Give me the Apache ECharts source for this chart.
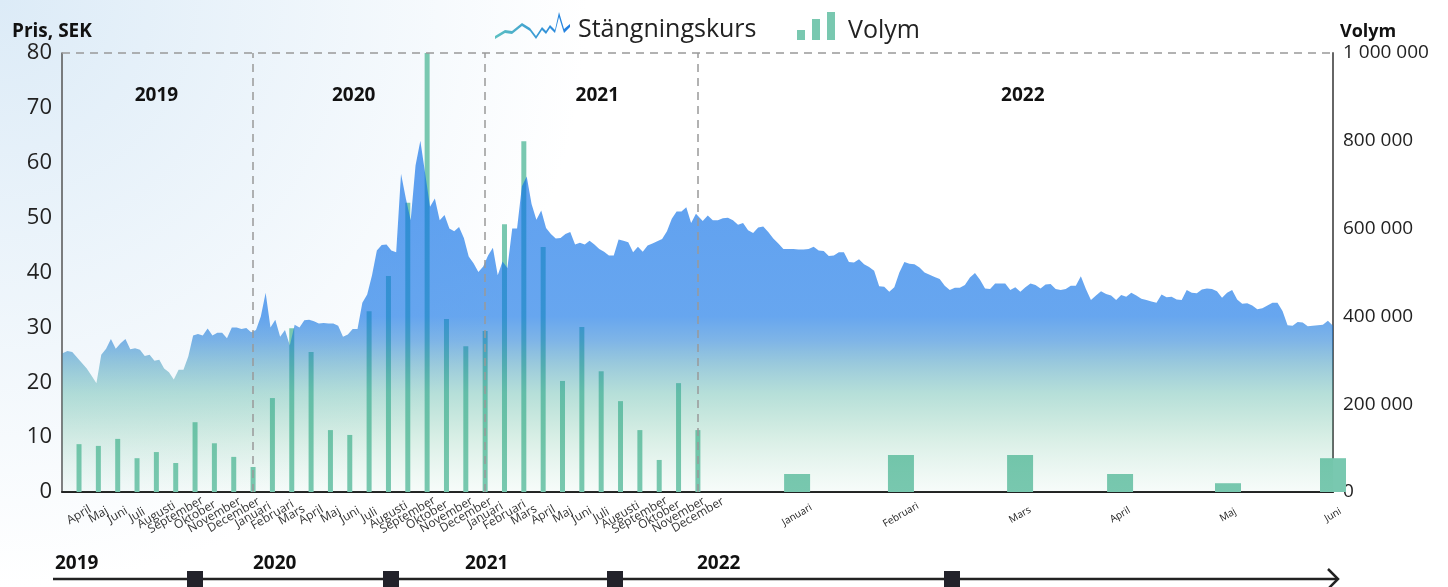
<!DOCTYPE html>
<html lang="sv">
<head>
<meta charset="UTF-8">
<title>Stängningskurs och volym</title>
<script src="https://cdn.jsdelivr.net/npm/echarts@6/dist/echarts.min.js"></script>
<style>
  html, body { margin: 0; padding: 0; background: #fff; }
  #main { width: 1448px; height: 587px; }
</style>
</head>
<body>
<div id="main"></div>
<script>
// månader, april 2019 - juni 2022
var monthNames = [
  'April', 'Maj', 'Juni', 'Juli', 'Augusti', 'September', 'Oktober', 'November', 'December',
  'Januari', 'Februari', 'Mars', 'April', 'Maj', 'Juni', 'Juli', 'Augusti', 'September', 'Oktober', 'November', 'December',
  'Januari', 'Februari', 'Mars', 'April', 'Maj', 'Juni', 'Juli', 'Augusti', 'September', 'Oktober', 'November', 'December',
  'Januari', 'Februari', 'Mars', 'April', 'Maj', 'Juni'
];
// läge på x-axeln (2019-2021 en enhet per månad, 2022 utdraget)
var monthPos = [
  0, 1, 2, 3, 4, 5, 6, 7, 8,
  9, 10, 11, 12, 13, 14, 15, 16, 17, 18, 19, 20,
  21, 22, 23, 24, 25, 26, 27, 28, 29, 30, 31, 32,
  37.13, 42.5, 48.66, 53.83, 59.41, 64.84
];
var volym = [
  109000, 105000, 121000, 77000, 91000, 66000, 159000, 111000, 80000,
  57000, 214000, 373000, 319000, 141000, 130000, 412000, 492000, 659000, 1000000, 394000, 332000,
  367000, 610000, 799000, 558000, 253000, 376000, 275000, 207000, 141000, 73000, 248000, 141000,
  41000, 84000, 84000, 41000, 20000, 77000
];
// stängningskurs 2019-2021, ett värde per kvarts månad
var priceA = [
  25.3, 25.7, 25.5, 24.5, 23.5, 22.5, 21.2, 19.8, 25.0, 26.1,
  27.9, 26.1, 27.1, 27.9, 26.0, 26.2, 25.9, 24.8, 25.0, 23.9,
  24.1, 22.5, 21.8, 20.5, 22.3, 22.3, 24.7, 28.5, 28.8, 28.5,
  29.8, 28.5, 29.0, 29.0, 28.0, 30.0, 30.0, 29.7, 29.9, 29.1,
  29.5, 32.0, 36.3, 30.0, 31.4, 28.3, 29.5, 26.7, 30.5, 30.0,
  31.3, 31.4, 31.1, 30.7, 30.8, 30.7, 30.7, 30.3, 28.3, 28.7,
  29.7, 29.7, 34.5, 36.0, 39.5, 44.0, 45.0, 45.1, 44.0, 43.7,
  58.0, 53.5, 49.5, 59.5, 64.0, 58.0, 52.0, 53.5, 49.5, 50.5,
  48.0, 47.5, 48.3, 46.3, 42.9, 41.7, 40.1, 41.1, 43.1, 44.5,
  39.5, 42.0, 40.8, 48.0, 48.0, 55.7, 57.5, 52.5, 49.6, 51.3,
  48.1, 47.0, 46.2, 46.3, 47.0, 47.4, 45.1, 45.4, 45.1, 45.8,
  45.1, 44.3, 43.8, 43.1, 43.1, 46.0, 45.8, 45.5, 43.7, 44.7,
  43.8, 44.9, 45.3, 45.7, 46.1, 47.5, 49.8, 51.1, 51.1, 51.9,
  49.0, 50.7
];
// stängningskurs 2022, per handelsdag
var priceB = [
  49.4, 50.4, 49.5, 49.5, 49.9, 50.0, 49.5, 48.7, 49.0, 47.7,
  47.2, 48.2, 48.4, 47.4, 46.2, 45.3, 44.3, 44.3, 44.3, 44.2,
  44.2, 44.3, 44.7, 44.0, 43.9, 43.0, 43.1, 43.7, 43.7, 41.9,
  41.8, 42.4, 41.5, 41.0, 40.3, 37.5, 37.4, 36.5, 37.3, 40.0,
  41.9, 41.6, 41.5, 40.9, 40.0, 39.6, 39.2, 38.8, 37.6, 36.8,
  37.2, 37.2, 37.7, 39.1, 39.9, 38.7, 37.1, 37.0, 38.0, 38.0,
  38.0, 36.8, 37.3, 36.5, 37.3, 38.0, 37.7, 37.1, 37.8, 37.9,
  37.0, 36.8, 37.0, 37.6, 37.6, 39.3, 37.0, 35.0, 35.8, 36.6,
  36.1, 35.8, 35.0, 35.9, 35.6, 36.3, 35.8, 35.2, 35.0, 34.7,
  34.5, 36.0, 35.5, 35.6, 35.1, 35.0, 36.8, 36.3, 36.2, 36.9,
  37.1, 37.0, 36.6, 35.4, 36.3, 36.8, 35.1, 34.3, 34.4, 34.0,
  33.3, 33.5, 34.0, 34.5, 34.5, 33.0, 30.4, 30.3, 31.0, 30.9,
  30.2, 30.3, 30.4, 30.5, 31.2, 30.3
];
var yearNames = ['2019', '2020', '2021', '2022'];
var yearBreaks = [9, 21, 32];
var yearLabelPos = [4.0, 14.2, 26.8, 48.8];

var FONT = "'Open Sans', sans-serif";
var chart = echarts.init(document.getElementById('main'));

// kurs som [x, värde]
var priceData = [];
priceA.forEach(function (v, i) { priceData.push([-0.85 + i * 0.25, v]); });
priceB.forEach(function (v, i) { priceData.push([32.25 + i * 0.2607, v]); });

var volOld = [], volNew = [];
volym.forEach(function (v, i) {
  if (i < 33) volOld.push([monthPos[i], v]);
  else volNew.push([monthPos[i], v]);
});

function spaced(v) {
  return String(v).replace(/\B(?=(\d{3})+(?!\d))/g, ' ');
}

var zigIcon = 'path://M0,26L10,20L17,21L27,13L35,18L41,26L47,17L51,21L55,15L60,20L64,2L69,19L75,14L75,17L69,23L64,7L60,23L55,18L51,24L47,20L41,29L35,21L27,16L17,24L10,23L0,29Z';
var barIcon = 'path://M0,18h8v10h-8Z M15,7h8v21h-8Z M30,0h8v28h-8Z';

var xRange = { min: -0.88, max: 64.84 };

var legendText = {
  fontSize: 25, color: '#222', fontFamily: FONT,
  rich: {
    a: { fontSize: 25, color: '#222', fontFamily: FONT, padding: [9, 0, 0, 3] },
    b: { fontSize: 25, color: '#222', fontFamily: FONT, padding: [9, 0, 0, 8] }
  }
};

var option = {
  animation: false,
  backgroundColor: {
    type: 'radial', x: 0, y: 0, r: 1.0,
    colorStops: [{ offset: 0, color: '#dcebf7' }, { offset: 1, color: '#ffffff' }]
  },
  textStyle: { fontFamily: FONT },
  legend: [{
    left: 495, top: 12, padding: 0,
    itemWidth: 75, itemHeight: 30,
    textStyle: legendText,
    formatter: '{a|{name}}',
    data: [{
      name: 'Stängningskurs', icon: zigIcon,
      itemStyle: {
        color: { type: 'linear', x: 0, y: 0, x2: 1, y2: 0,
          colorStops: [{ offset: 0, color: '#5cc0c2' }, { offset: 1, color: '#1f7de2' }] }
      }
    }]
  }, {
    left: 797, top: 12, padding: 0,
    itemWidth: 38, itemHeight: 28,
    textStyle: legendText,
    formatter: '{b|{name}}',
    data: [{ name: 'Volym', icon: barIcon, itemStyle: { color: '#79c8b0' } }]
  }],
  grid: { left: 62, right: 115, top: 53, bottom: 95 },
  xAxis: [{
    type: 'value', min: xRange.min, max: xRange.max,
    splitLine: { show: false },
    axisTick: { show: false },
    axisLine: { onZero: false, lineStyle: { color: '#222', width: 2 } },
    axisLabel: {
      // tom etikett vid min så att ingen månad döljs
      customValues: [xRange.min].concat(monthPos),
      showMinLabel: true, showMaxLabel: true, hideOverlap: false,
      rotate: 30, fontSize: 12, color: '#333', margin: 23,
      align: 'center', verticalAlign: 'middle',
      formatter: function (val) {
        for (var i = 0; i < monthPos.length; i++) {
          if (Math.abs(monthPos[i] - val) < 1e-6) {
            return i >= 33 ? '{s|' + monthNames[i] + '}' : monthNames[i];
          }
        }
        return '';
      },
      rich: { s: { fontSize: 10, color: '#222' } }
    }
  }, {
    // hjälpaxel för de breda staplarna 2022
    type: 'value', min: xRange.min, max: xRange.max, show: false
  }],
  yAxis: [{
    type: 'value', min: 0, max: 80, interval: 10,
    name: 'Pris, SEK', nameGap: 12,
    nameTextStyle: { fontSize: 19, fontWeight: 'bold', color: '#111', align: 'left', padding: [0, 0, 0, -50] },
    splitLine: { show: false },
    axisTick: { show: false },
    axisLine: { show: true, onZero: false, lineStyle: { color: '#555', width: 1.5 } },
    axisLabel: { fontSize: 22, color: '#222', margin: 10 }
  }, {
    type: 'value', min: 0, max: 1000000, interval: 200000, position: 'right',
    name: 'Volym', nameGap: 12,
    nameTextStyle: { fontSize: 18, fontWeight: 'bold', color: '#111', align: 'left', padding: [0, 0, 0, 7] },
    splitLine: { show: false },
    axisTick: { show: false },
    axisLine: { show: true, onZero: false, lineStyle: { color: '#666', width: 2 } },
    axisLabel: { fontSize: 19, color: '#222', margin: 10, formatter: spaced }
  }],
  series: [{
    name: 'Volym', type: 'bar', yAxisIndex: 1,
    data: volOld, barWidth: 5, z: 2,
    itemStyle: { color: '#79c8b0' }
  }, {
    name: 'Volym', type: 'bar', xAxisIndex: 1, yAxisIndex: 1,
    data: volNew, barWidth: 26, z: 2,
    itemStyle: { color: '#79c8b0' }
  }, {
    name: 'Stängningskurs', type: 'line',
    data: priceData, showSymbol: false, symbol: 'none', z: 3,
    itemStyle: { color: '#3a8fe6' },
    lineStyle: { width: 0 },
    areaStyle: {
      opacity: 1,
      color: { type: 'linear', x: 0, y: 0, x2: 0, y2: 1,
        colorStops: [
          { offset: 0, color: 'rgba(8,108,232,0.65)' },
          { offset: 0.5, color: 'rgba(14,114,230,0.63)' },
          { offset: 0.57, color: 'rgba(22,120,211,0.55)' },
          { offset: 0.64, color: 'rgba(35,139,177,0.45)' },
          { offset: 0.72, color: 'rgba(63,171,155,0.38)' },
          { offset: 0.85, color: 'rgba(65,175,130,0.2)' },
          { offset: 1, color: 'rgba(100,190,150,0.05)' }
        ] }
    },
    markLine: {
      silent: true, symbol: 'none', label: { show: false },
      lineStyle: { color: '#999', type: [8, 6], width: 1.5 },
      data: yearBreaks.map(function (x) { return { xAxis: x }; }).concat([{ yAxis: 80 }])
    },
    markPoint: {
      silent: true, symbol: 'rect', symbolSize: 1,
      itemStyle: { color: 'rgba(0,0,0,0)' },
      label: { show: true, position: 'inside', fontSize: 19, fontWeight: 'bold', color: '#111', formatter: '{b}' },
      data: yearNames.map(function (n, i) { return { name: n, coord: [yearLabelPos[i], 72.3] }; })
    }
  }],
  graphic: [
    { type: 'line', shape: { x1: 53, y1: 579, x2: 1337, y2: 579 }, style: { stroke: '#222', lineWidth: 2.5 } },
    { type: 'polyline', shape: { points: [[1328, 569], [1338, 579], [1328, 589]] }, style: { stroke: '#222', lineWidth: 2.5, fill: null } },
    { type: 'rect', shape: { x: 187, y: 571, width: 16, height: 16 }, style: { fill: '#22222a' } },
    { type: 'rect', shape: { x: 383, y: 571, width: 16, height: 16 }, style: { fill: '#22222a' } },
    { type: 'rect', shape: { x: 607, y: 571, width: 16, height: 16 }, style: { fill: '#22222a' } },
    { type: 'rect', shape: { x: 944, y: 571, width: 16, height: 16 }, style: { fill: '#22222a' } },
    { type: 'text', left: 55, top: 554, style: { text: '2019', font: 'bold 19px ' + FONT, fill: '#111' } },
    { type: 'text', left: 253, top: 554, style: { text: '2020', font: 'bold 19px ' + FONT, fill: '#111' } },
    { type: 'text', left: 465, top: 554, style: { text: '2021', font: 'bold 19px ' + FONT, fill: '#111' } },
    { type: 'text', left: 697, top: 554, style: { text: '2022', font: 'bold 19px ' + FONT, fill: '#111' } }
  ]
};
chart.setOption(option);
window.onresize = chart.resize;
</script>
</body>
</html>
